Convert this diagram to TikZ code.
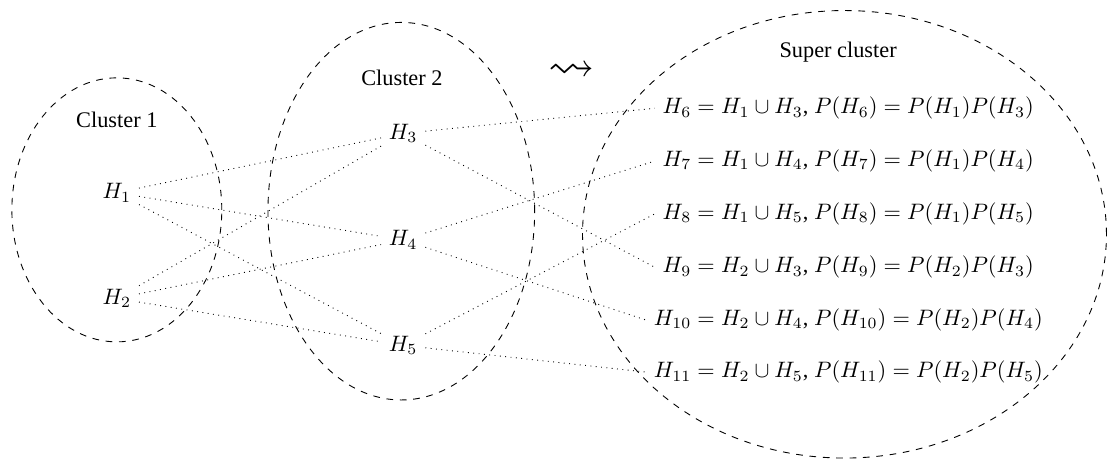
\documentclass[tikz,border=0pt]{standalone}
\usepackage[no-math]{fontspec}
\setmainfont{Liberation Serif}
\usepackage{amssymb}
\tikzset{link/.style={dotted}, clus/.style={dashed}}
\begin{document}
\begin{tikzpicture}
  \useasboundingbox (0,0) rectangle (17.45,-7.245);
  % the three clusters
  \draw[clus] (1.84,-3.305) ellipse (1.653 and 2.079);
  \draw[clus] (6.32,-3.326) ellipse (2.10 and 2.973);
  \draw[clus] (13.30,-3.69) ellipse (4.126 and 3.524);
  \node (c1) at (1.84,-1.89) {Cluster 1};
  \node (c2) at (6.33,-1.226) {Cluster 2};
  \node (sc) at (13.20,-0.82) {Super cluster};
  \node (arr) at (9.01,-1.13) {\huge$\leadsto$};
  % hypotheses
  \node (h1) at (1.84,-3.035) {$H_1$};
  \node (h2) at (1.84,-4.70) {$H_2$};
  \node (h3) at (6.35,-2.10) {$H_3$};
  \node (h4) at (6.35,-3.78) {$H_4$};
  \node (h5) at (6.35,-5.44) {$H_5$};
  \node (h6)  at (13.36,-1.705) {$H_6 = H_1 \cup H_3$, $P(H_6) = P(H_1)P(H_3)$};
  \node (h7)  at (13.36,-2.536) {$H_7 = H_1 \cup H_4$, $P(H_7) = P(H_1)P(H_4)$};
  \node (h8)  at (13.36,-3.368) {$H_8 = H_1 \cup H_5$, $P(H_8) = P(H_1)P(H_5)$};
  \node (h9)  at (13.36,-4.21) {$H_9 = H_2 \cup H_3$, $P(H_9) = P(H_2)P(H_3)$};
  \node (h10) at (13.36,-5.04) {$H_{10} = H_2 \cup H_4$, $P(H_{10}) = P(H_2)P(H_4)$};
  \node (h11) at (13.36,-5.86) {$H_{11} = H_2 \cup H_5$, $P(H_{11}) = P(H_2)P(H_5)$};
  % links
  \foreach \a in {h1,h2}
    \foreach \b in {h3,h4,h5}
      \draw[link] (\a) -- (\b);
  \foreach \a/\b in {h3/h6,h4/h7,h5/h8,h3/h9,h4/h10,h5/h11}
    \draw[link] (\a) -- (\b.west);
\end{tikzpicture}
\end{document}
